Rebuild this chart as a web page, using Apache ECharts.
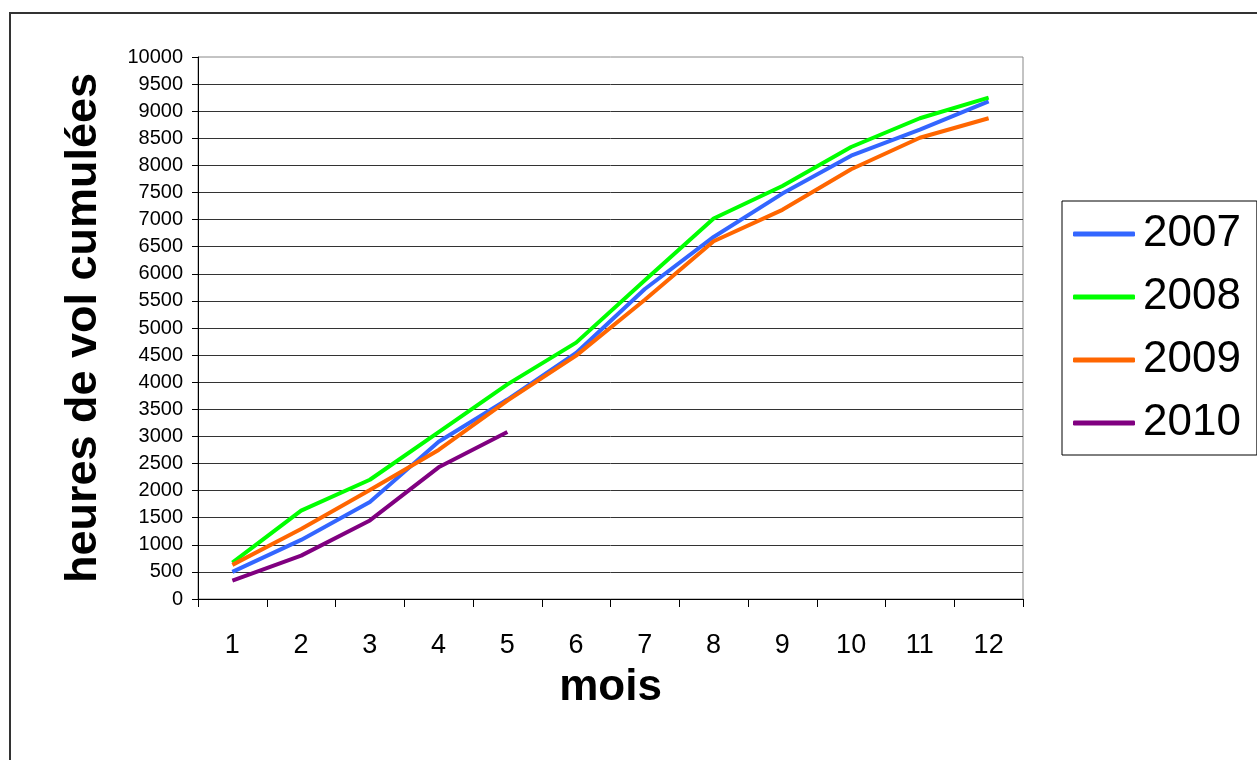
<!DOCTYPE html>
<html>
<head>
<meta charset="utf-8">
<script src="https://cdn.jsdelivr.net/npm/echarts@6/dist/echarts.min.js"></script>
<style>
  html, body { margin: 0; padding: 0; background: #fff; }
  #main { width: 1257px; height: 760px; }
</style>
</head>
<body>
<div id="main"></div>
<script>
// mois
const months = ['1', '2', '3', '4', '5', '6', '7', '8', '9', '10', '11', '12']
// heures de vol cumulées par année
const y2007 = [500, 1090, 1790, 2900, 3680, 4540, 5720, 6680, 7480, 8180, 8660, 9180]
const y2008 = [670, 1630, 2200, 3080, 3960, 4730, 5880, 7020, 7620, 8340, 8870, 9250]
const y2009 = [630, 1290, 2010, 2750, 3660, 4490, 5520, 6600, 7180, 7930, 8510, 8870]
const y2010 = [340, 800, 1450, 2430, 3080]

const seriesNames = ['2007', '2008', '2009', '2010']
const seriesData = [y2007, y2008, y2009, y2010]
const colors = ['#3366ff', '#00ff00', '#ff6600', '#800080']

const font = '"Liberation Sans", Arial, sans-serif'

var myChart = echarts.init(document.getElementById('main'))

let series = []
for (let i = 0; i < seriesNames.length; i++) {
    series.push({
        name: seriesNames[i],
        type: 'line',
        data: seriesData[i],
        showSymbol: false,
        symbol: 'none',
        lineStyle: { color: colors[i], width: 4 },
        itemStyle: { color: colors[i] },
        animation: false
    })
}

var option = {
    animation: false,
    textStyle: { fontFamily: font },
    graphic: [{
        type: 'rect',
        shape: { x: 10, y: 13, width: 1400, height: 900 },
        style: { fill: 'none', stroke: '#333', lineWidth: 2 },
        z: 100
    }],
    grid: {
        left: 198,
        top: 57,
        width: 825,
        height: 542,
        show: true,
        borderColor: '#888',
        borderWidth: 1
    },
    legend: {
        orient: 'vertical',
        left: 1062,
        top: 201,
        padding: [11, 16, 10, 11],
        itemGap: 19,
        itemWidth: 62,
        itemHeight: 5,
        icon: 'roundRect',
        borderColor: '#000',
        borderWidth: 1,
        data: seriesNames,
        textStyle: {
            fontSize: 44,
            color: '#000',
            fontFamily: font,
            padding: [0, 0, 0, 3]
        }
    },
    xAxis: {
        type: 'category',
        data: months,
        boundaryGap: true,
        name: 'mois',
        nameLocation: 'middle',
        nameGap: 67,
        nameTextStyle: { fontSize: 44, fontWeight: 'bold', color: '#000', fontFamily: font },
        axisLine: { lineStyle: { color: '#000', width: 1 } },
        axisTick: { show: true, length: 8, lineStyle: { color: '#000' } },
        axisLabel: { fontSize: 27, color: '#000', margin: 33, fontFamily: font },
        splitLine: { show: false }
    },
    yAxis: {
        type: 'value',
        min: 0,
        max: 10000,
        interval: 500,
        name: 'heures de vol cumulées',
        nameLocation: 'middle',
        nameGap: 92,
        nameTextStyle: { fontSize: 45, fontWeight: 'bold', color: '#000', fontFamily: font },
        axisLine: { show: true, lineStyle: { color: '#000', width: 1 } },
        axisTick: { show: true, length: 6, lineStyle: { color: '#000' } },
        axisLabel: {
            fontSize: 20,
            color: '#000',
            margin: 15,
            fontFamily: font,
            formatter: function (v) { return String(v) }
        },
        splitLine: { show: true, showMaxLine: false, lineStyle: { color: '#333', width: 1 } }
    },
    series: series
}
myChart.setOption(option)
</script>
</body>
</html>
